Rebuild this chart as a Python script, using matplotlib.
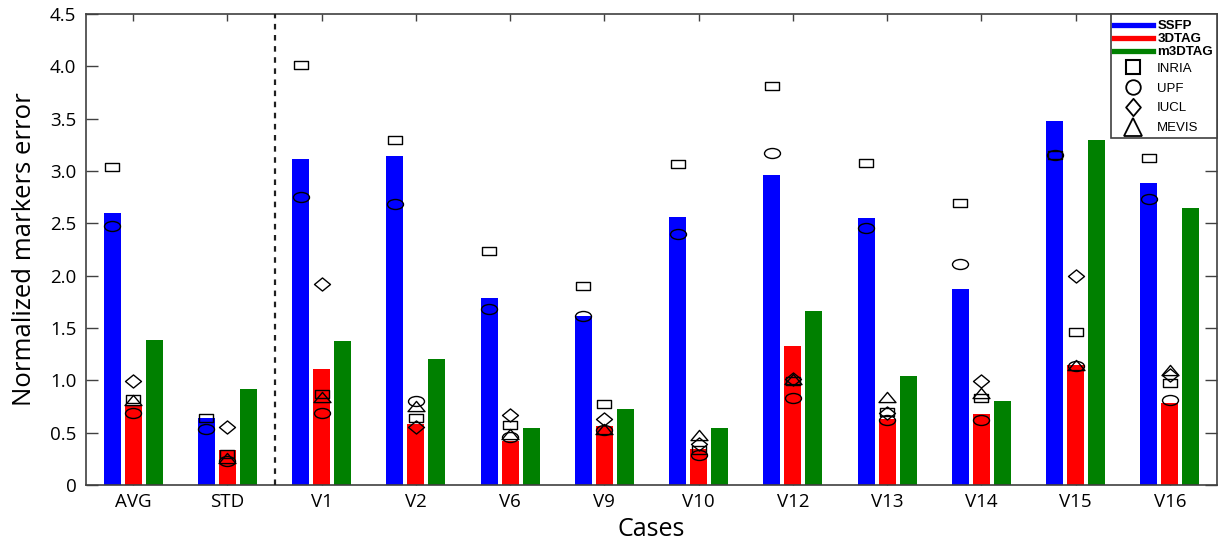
import numpy as np
import matplotlib
matplotlib.use("Agg")
import matplotlib.pyplot as plt
from matplotlib.path import Path
from matplotlib.lines import Line2D
from matplotlib.patches import Rectangle

# ---------------- data ----------------
cases = ['AVG', 'STD', 'V1', 'V2', 'V6', 'V9', 'V10', 'V12', 'V13', 'V14', 'V15', 'V16']
ssfp = [2.60, 0.64, 3.11, 3.14, 1.79, 1.61, 2.56, 2.96, 2.55, 1.875, 3.475, 2.885]
tag3d = [0.76, 0.33, 1.11, 0.58, 0.42, 0.56, 0.34, 1.33, 0.63, 0.675, 1.15, 0.78]
m3dtag = [1.385, 0.92, 1.375, 1.20, 0.54, 0.73, 0.54, 1.665, 1.04, 0.80, 3.30, 2.65]

inria_ssfp = [3.04, 0.64, 4.01, 3.30, 2.24, 1.90, 3.07, 3.81, 3.08, 2.69, 3.15, 3.12]
upf_ssfp = [2.47, 0.535, 2.75, 2.68, 1.68, 1.61, 2.40, 3.17, 2.455, 2.11, 3.15, 2.73]

inria_3dtag = [0.82, 0.30, 0.87, 0.64, 0.57, 0.77, 0.33, 0.99, 0.70, 0.835, 1.465, 0.97]
upf_3dtag = [0.69, 0.23, 0.69, 0.80, 0.46, 0.525, 0.29, 0.83, 0.62, 0.62, 1.14, 0.81]
iucl_3dtag = [0.99, 0.55, 1.92, 0.55, 0.67, 0.63, 0.39, 1.01, 0.69, 0.99, 2.00, 1.05]
mevis_3dtag = [0.81, 0.26, 0.84, 0.755, 0.49, 0.535, 0.48, 1.01, 0.84, 0.875, 1.15, 1.10]

yticks = [0, 0.5, 1.0, 1.5, 2.0, 2.5, 3.0, 3.5, 4.0, 4.5]
ytick_labels = ['0', '0.5', '1.0', '1.5', '2.0', '2.5', '3.0', '3.5', '4.0', '4.5']

line_labels = ['SSFP', '3DTAG', 'm3DTAG']
marker_labels = ['INRIA', 'UPF', 'IUCL', 'MEVIS']

# ---------------- style ----------------
FONT = 'Open Sans'
LEGFONT = 'Liberation Sans'
BLUE, RED, GREEN = '#0000FF', '#FF0000', '#008000'
SPINE = '#404040'

# stretched custom markers (wide shapes as in the reference)
sq_path = Path([(-1.6, -1), (1.6, -1), (1.6, 1), (-1.6, 1), (-1.6, -1)],
               [Path.MOVETO, Path.LINETO, Path.LINETO, Path.LINETO, Path.CLOSEPOLY])
uc = Path.unit_circle()
ell_path = Path(uc.vertices * np.array([1.6, 1.0]), uc.codes)
dia_path = Path([(0, -0.82), (1, 0), (0, 0.82), (-1, 0), (0, -0.82)],
                [Path.MOVETO, Path.LINETO, Path.LINETO, Path.LINETO, Path.CLOSEPOLY])
tri_path = Path([(-1, -0.6), (1, -0.6), (0, 0.6), (-1, -0.6)],
                [Path.MOVETO, Path.LINETO, Path.LINETO, Path.CLOSEPOLY])
leg_dia = Path([(0, -1), (0.85, 0), (0, 1), (-0.85, 0), (0, -1)],
               [Path.MOVETO, Path.LINETO, Path.LINETO, Path.LINETO, Path.CLOSEPOLY])

fig = plt.figure(figsize=(12.21, 5.44), dpi=100)
ax = fig.add_axes([86 / 1221, 1 - 485 / 544, (1217 - 86) / 1221, (485 - 14) / 544])

x = np.arange(len(cases))
off = 0.222
w = 0.18
ax.bar(x - off, ssfp, width=w, color=BLUE, linewidth=0, zorder=2)
ax.bar(x, tag3d, width=w, color=RED, linewidth=0, zorder=2)
ax.bar(x + off, m3dtag, width=w, color=GREEN, linewidth=0, zorder=2)

mk = dict(linestyle='none', markerfacecolor='none', markeredgecolor='black',
          markeredgewidth=1.0, zorder=4)
ax.plot(x - off, inria_ssfp, marker=sq_path, markersize=9.4, **mk)
ax.plot(x - off, upf_ssfp, marker=ell_path, markersize=11.5, **mk)
ax.plot(x, inria_3dtag, marker=sq_path, markersize=9.4, **mk)
ax.plot(x, upf_3dtag, marker=ell_path, markersize=11.5, **mk)
ax.plot(x, iucl_3dtag, marker=dia_path, markersize=11.5, **mk)
ax.plot(x, mevis_3dtag, marker=tri_path, markersize=12.2, **mk)

ax.axvline(1.5, color='#202020', linestyle=(0, (2.5, 2.5)), linewidth=1.6, zorder=3)

ax.set_xlim(-0.5, 11.5)
ax.set_ylim(0, 4.5)
ax.set_xticks(x)
ax.set_xticklabels(cases, fontfamily=FONT, fontsize=13.5)
ax.set_yticks(yticks)
ax.set_yticklabels(ytick_labels, fontfamily=FONT, fontsize=13.5)

ax.tick_params(axis='y', direction='in', length=8.6, width=1.0, color=SPINE,
               left=True, right=True, pad=7)
ax.tick_params(axis='x', direction='in', length=5, width=1.0, color=SPINE,
               bottom=True, top=True, pad=6)
for s in ax.spines.values():
    s.set_color(SPINE)
    s.set_linewidth(1.2)

ax.set_xlabel('Cases', fontfamily=FONT, fontsize=18, labelpad=4)
ax.set_ylabel('Normalized markers error', fontfamily=FONT, fontsize=18.5)
ax.yaxis.set_label_coords(-0.043, 0.5)

# ---------------- legend (two stacked groups in one frame) ----------------
lx = (1111 - 86) / 1131
ly = (485 - 138) / 471
frame = Rectangle((lx, ly), 1 - lx, 1 - ly, transform=ax.transAxes,
                  facecolor='white', edgecolor=SPINE, linewidth=1.2, zorder=5,
                  clip_on=False)
ax.add_patch(frame)

common = dict(loc='upper left', borderaxespad=0, frameon=False,
              handlelength=3.0, handletextpad=0.3, borderpad=0.2)

line_handles = [Line2D([], [], color=c, lw=3.8) for c in (BLUE, RED, GREEN)]
leg1 = ax.legend(line_handles, line_labels, bbox_to_anchor=(lx, (485 - 17.5) / 471),
                 prop={'family': LEGFONT, 'size': 9.5, 'weight': 'bold'},
                 labelspacing=0.06, **common)
leg1.set_zorder(6)
ax.add_artist(leg1)

mh = dict(ls='none', markerfacecolor='none', markeredgecolor='black')
marker_handles = [
    Line2D([], [], marker='s', markersize=9.5, markeredgewidth=1.5, **mh),
    Line2D([], [], marker='o', markersize=10.5, markeredgewidth=1.3, **mh),
    Line2D([], [], marker=leg_dia, markersize=12.5, markeredgewidth=1.3, **mh),
    Line2D([], [], marker='^', markersize=12.5, markeredgewidth=1.3, **mh),
]
leg2 = ax.legend(marker_handles, marker_labels, bbox_to_anchor=(lx, (485 - 60) / 471),
                 prop={'family': LEGFONT, 'size': 9.5},
                 labelspacing=0.57, **common)
leg2.set_zorder(6)

fig.savefig('out.png', dpi=100)
